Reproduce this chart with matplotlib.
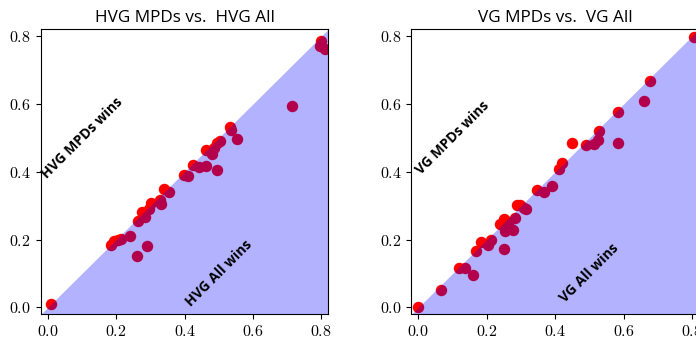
import matplotlib
matplotlib.use("Agg")
from matplotlib import pyplot as plt

# HVG All (x) vs HVG MPDs (y)
hvg_all = [0.01, 0.185, 0.193, 0.205, 0.215, 0.24, 0.26, 0.29, 0.263, 0.275,
           0.284, 0.295, 0.303, 0.328, 0.33, 0.34, 0.355, 0.398, 0.41, 0.424,
           0.443, 0.463, 0.462, 0.48, 0.487, 0.495, 0.505, 0.494, 0.533, 0.535,
           0.553, 0.715, 0.80, 0.795, 0.81]
hvg_mpds = [0.01, 0.185, 0.195, 0.2, 0.203, 0.212, 0.151, 0.182, 0.254, 0.28,
            0.268, 0.29, 0.307, 0.316, 0.305, 0.349, 0.339, 0.392, 0.389, 0.42,
            0.413, 0.418, 0.463, 0.452, 0.47, 0.485, 0.49, 0.404, 0.532, 0.522,
            0.498, 0.595, 0.787, 0.772, 0.763]

# VG All (x) vs VG MPDs (y)
vg_all = [0.0, 0.066, 0.118, 0.137, 0.16, 0.169, 0.184, 0.205, 0.213, 0.251,
          0.239, 0.249, 0.257, 0.252, 0.276, 0.264, 0.283, 0.288, 0.298, 0.31,
          0.315, 0.347, 0.368, 0.391, 0.41, 0.419, 0.45, 0.49, 0.515, 0.524,
          0.529, 0.585, 0.585, 0.661, 0.677, 0.807]
vg_mpds = [0.0, 0.051, 0.115, 0.115, 0.097, 0.166, 0.192, 0.183, 0.198, 0.173,
           0.247, 0.261, 0.256, 0.224, 0.227, 0.236, 0.264, 0.303, 0.303, 0.293,
           0.29, 0.347, 0.339, 0.359, 0.408, 0.427, 0.484, 0.478, 0.482, 0.494,
           0.519, 0.577, 0.484, 0.61, 0.669, 0.798]

ticks = [0.0, 0.2, 0.4, 0.6, 0.8]
lims = [-0.0205, 0.82]

plt.rcParams['axes.formatter.use_mathtext'] = True
plt.rcParams['mathtext.fontset'] = 'cm'

fig = plt.figure(figsize=(6.96, 3.38), dpi=100)

panels = [
    (hvg_all, hvg_mpds, 'HVG', 0.0585),
    (vg_all, vg_mpds, 'VG', 0.591),
]

for x, y, name, left in panels:
    ax = fig.add_axes([left, 0.070, 0.413, 0.843])
    ax.scatter(x, y, s=68, color='red', linewidths=0)
    ax.fill_between(lims, lims[0], lims, color='blue', alpha=0.3, linewidth=0)
    ax.set_xlim(lims)
    ax.set_ylim(lims)
    ax.set_xticks(ticks)
    ax.set_yticks(ticks)
    ax.set_xticklabels(['$%.1f$' % t for t in ticks])
    ax.set_yticklabels(['$%.1f$' % t for t in ticks])
    ax.tick_params(labelsize=11.5)
    ax.set_title('%s MPDs vs.  %s All' % (name, name), fontsize=12.3,
                 family='Open Sans', pad=5)
    ax.text(0.1, 0.5, '%s MPDs wins' % name, rotation=45, ha='center',
            va='center', fontsize=10, fontweight='bold', family='Open Sans')
    ax.text(0.5, 0.1, '%s All wins' % name, rotation=45, ha='center',
            va='center', fontsize=10, fontweight='bold', family='Open Sans')

plt.savefig('out.png', dpi=100)
